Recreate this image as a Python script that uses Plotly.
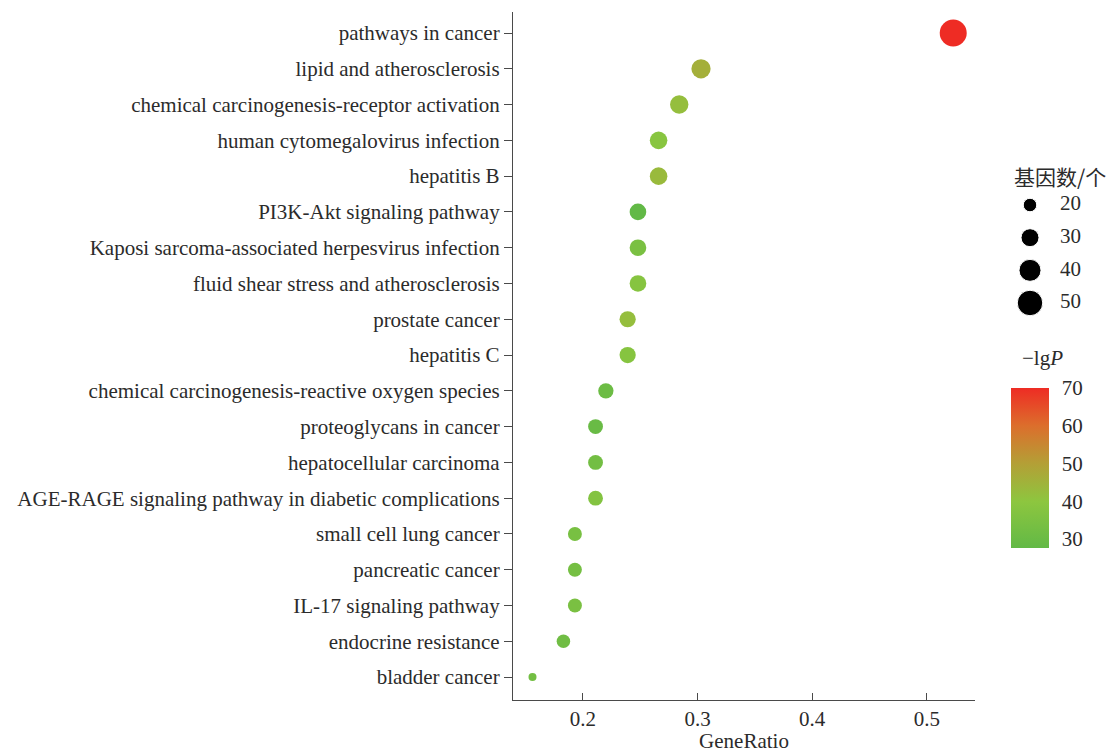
import plotly.graph_objects as go
import numpy as np

terms = [
    "pathways in cancer",
    "lipid and atherosclerosis",
    "chemical carcinogenesis-receptor activation",
    "human cytomegalovirus infection",
    "hepatitis B",
    "PI3K-Akt signaling pathway",
    "Kaposi sarcoma-associated herpesvirus infection",
    "fluid shear stress and atherosclerosis",
    "prostate cancer",
    "hepatitis C",
    "chemical carcinogenesis-reactive oxygen species",
    "proteoglycans in cancer",
    "hepatocellular carcinoma",
    "AGE-RAGE signaling pathway in diabetic complications",
    "small cell lung cancer",
    "pancreatic cancer",
    "IL-17 signaling pathway",
    "endocrine resistance",
    "bladder cancer",
]
gene_count = [57, 33, 31, 29, 29, 27, 27, 27, 26, 26, 24, 23, 23, 23, 21, 21, 21, 20, 17]
gene_ratio = [0.523, 0.303, 0.284, 0.266, 0.266, 0.248, 0.248, 0.248, 0.239, 0.239,
              0.220, 0.211, 0.211, 0.211, 0.193, 0.193, 0.193, 0.183, 0.156]
neg_lg_p = [70.0, 46.0, 42.0, 38.5, 43.0, 27.6, 34.5, 38.0, 42.0, 38.0,
            30.5, 29.5, 32.5, 37.0, 34.0, 33.0, 34.5, 31.5, 32.5]
legend_counts = [20, 30, 40, 50]
cbar_ticks = [30, 40, 50, 60, 70]
x_ticks = [0.2, 0.3, 0.4, 0.5]

FONT = "Liberation Serif, Times New Roman, Noto Sans CJK SC, serif"
TXT = "#2b2b2b"
AX = "#4a4a4a"
FS = 21

# layout geometry (pixels)
W, H = 1111, 753
L, T, B = 513, 12, 53
PW = W - L           # paper width
PH = H - T - B       # paper height
CB_X0, CB_X1 = 1011, 1049
CB_TOP, CB_BOT = 388, 548

def px_x(p):
    return (p - L) / PW

def px_y(p):
    return (H - B - p) / PH

def size_of(c):
    return np.interp(c, [17, 20, 30, 40, 50, 57], [8, 13.5, 18, 22, 25.5, 27])

colorscale = [
    [0.0, "#62b946"],
    [0.29, "#8dc63f"],
    [0.53, "#b49f36"],
    [0.765, "#dc6e2c"],
    [1.0, "#ee2c24"],
]
cmin, cmax = min(neg_lg_p), max(neg_lg_p)

fig = go.Figure()
fig.add_trace(go.Scatter(
    x=gene_ratio, y=terms, mode="markers",
    marker=dict(
        size=[size_of(c) for c in gene_count], opacity=1,
        color=neg_lg_p, colorscale=colorscale, cmin=cmin, cmax=cmax,
        line=dict(width=0),
        colorbar=dict(
            x=px_x(CB_X0), xanchor="left", xpad=0,
            y=px_y((CB_TOP + CB_BOT) / 2), yanchor="middle", ypad=0,
            thickness=CB_X1 - CB_X0, thicknessmode="pixels",
            len=CB_BOT - CB_TOP, lenmode="pixels",
            tickvals=cbar_ticks, ticks="outside", ticklen=9,
            tickcolor="rgba(255,255,255,0)",
            tickfont=dict(family=FONT, size=FS, color=TXT),
            outlinewidth=0,
        ),
    ),
    showlegend=False, hoverinfo="x+y",
))

# size legend (guide)
fig.add_trace(go.Scatter(
    x=[0] * len(legend_counts), y=legend_counts, mode="markers",
    marker=dict(size=[size_of(c) for c in legend_counts], color="black", opacity=1),
    xaxis="x2", yaxis="y2", showlegend=False, hoverinfo="skip", cliponaxis=False,
))
fig.add_trace(go.Scatter(
    x=[2.0] * len(legend_counts), y=legend_counts, mode="text",
    text=[str(c) for c in legend_counts], textposition="middle right",
    textfont=dict(family=FONT, size=FS, color=TXT),
    xaxis="x2", yaxis="y2", showlegend=False, hoverinfo="skip", cliponaxis=False,
))

# white tick marks on the colour bar
shapes = []
for v in cbar_ticks:
    yp = CB_BOT - (v - cmin) / (cmax - cmin) * (CB_BOT - CB_TOP)
    for xa, xb in [(CB_X0, CB_X0 + 7), (CB_X1 - 7, CB_X1)]:
        shapes.append(dict(type="line", xref="paper", yref="paper",
                           x0=px_x(xa), x1=px_x(xb), y0=px_y(yp), y1=px_y(yp),
                           line=dict(color="white", width=1.2)))

n = len(terms)
fig.update_layout(
    width=W, height=H,
    margin=dict(l=L, r=0, t=T, b=B, autoexpand=False),
    paper_bgcolor="white", plot_bgcolor="white",
    font=dict(family=FONT, size=FS, color=TXT),
    xaxis=dict(
        domain=[0, (975 - L) / PW], range=[0.139, 0.542],
        tickvals=x_ticks, ticktext=[str(t) for t in x_ticks],
        showline=True, linecolor=AX, linewidth=1.3,
        ticks="inside", ticklen=7, tickcolor=AX, tickwidth=1.3,
        showgrid=False, zeroline=False, automargin=False,
        tickfont=dict(family=FONT, size=FS, color=TXT),
        title=dict(text="GeneRatio", standoff=2,
                   font=dict(family=FONT, size=FS, color=TXT)),
    ),
    yaxis=dict(
        type="category", categoryorder="array", categoryarray=terms,
        range=[n - 1 + 0.64, -0.587],
        showline=True, linecolor=AX, linewidth=1.3,
        ticks="outside", ticklen=8, tickcolor=AX, tickwidth=1.3,
        showgrid=False, zeroline=False, automargin=False,
        tickfont=dict(family=FONT, size=FS, color=TXT),
    ),
    xaxis2=dict(domain=[px_x(1015), px_x(1015) + 60 / PW], range=[-1, 3],
                visible=False, fixedrange=True),
    yaxis2=dict(domain=[px_y(319.3), px_y(188.7)], range=[55, 15],
                visible=False, fixedrange=True, anchor="x2"),
    shapes=shapes,
    annotations=[
        dict(text="基因数/个", xref="paper", yref="paper",
             x=px_x(1012), y=px_y(176), xanchor="left", yanchor="middle",
             showarrow=False,
             font=dict(family="Noto Sans CJK SC, " + FONT, size=FS, color=TXT)),
        dict(text="\u2212lg<i>P</i>", xref="paper", yref="paper",
             x=px_x(1042), y=px_y(358), xanchor="center", yanchor="middle",
             showarrow=False, font=dict(family=FONT, size=FS, color=TXT)),
    ],
)

fig.write_html("out.html", config={"displayModeBar": False},
               post_script="document.body.style.margin='0';")
